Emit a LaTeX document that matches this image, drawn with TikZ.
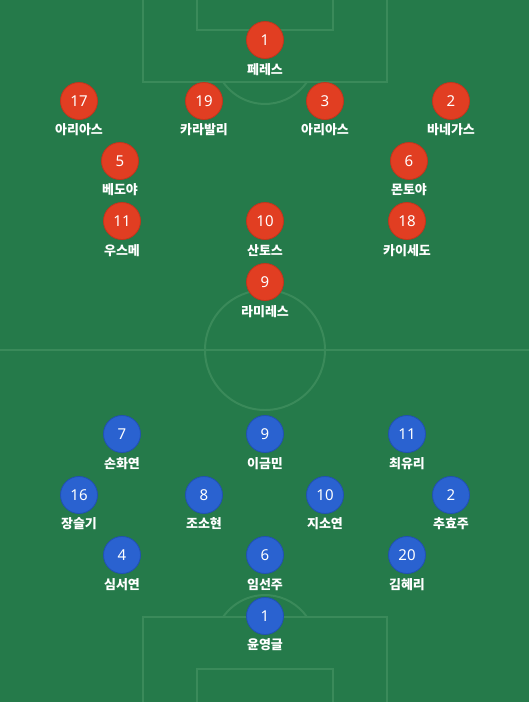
\documentclass[tikz,border=0pt]{standalone}
\usepackage{fontspec}
\newfontfamily\kr{Noto Sans CJK KR}
\setsansfont{Noto Sans}

\definecolor{pitch}{HTML}{257A4A}
\definecolor{pline}{HTML}{3A8A5A}
\definecolor{homered}{HTML}{E13E22}
\definecolor{homeedge}{HTML}{C3341C}
\definecolor{awayblue}{HTML}{2A62D0}
\definecolor{awayedge}{HTML}{2150B2}

\begin{document}
\begin{tikzpicture}[x=1pt, y=-1pt,
	home/.style={draw=homeedge, fill=homered, circle, line width=0.8pt, minimum size=37pt, inner sep=0pt, text=white, font=\sffamily\fontsize{15}{15}\selectfont},
	away/.style={draw=awayedge, fill=awayblue, circle, line width=0.8pt, minimum size=37pt, inner sep=0pt, text=white, font=\sffamily\fontsize{15}{15}\selectfont},
	pname/.style={text=white, inner sep=0pt, font=\kr\bfseries\fontsize{13}{13}\selectfont},
	pitchline/.style={draw=pline, line width=2pt}]
	% pitch
	\fill[pitch] (0,0) rectangle (529,702);
	\useasboundingbox (0,0) rectangle (529,702);
	\draw[pitchline] (143,-5) -- (143,82) -- (387,82) -- (387,-5);
	\draw[pitchline] (197,-5) -- (197,30) -- (333,30) -- (333,-5);
	\draw[pitchline] (223.1,82) arc[start angle=214.7, end angle=325.3, radius=51pt];
	\draw[pitchline] (0,350) -- (529,350);
	\draw[pitchline] (265,350) circle[radius=60pt];
	\draw[pitchline] (143,707) -- (143,617) -- (387,617) -- (387,707);
	\draw[pitchline] (197,707) -- (197,669) -- (333,669) -- (333,707);
	\draw[pitchline] (223.1,617) arc[start angle=145.3, end angle=34.7, radius=51pt];

	% home side
	\node[home] (h1) at (265,40) {1};
	\node[pname] (h1n) at (265,70) {페레스};
	\node[home] (h17) at (79,101) {17};
	\node[pname] (h17n) at (79,130) {아리아스};
	\node[home] (h19) at (204,101) {19};
	\node[pname] (h19n) at (204,130) {카라발리};
	\node[home] (h3) at (325,101) {3};
	\node[pname] (h3n) at (325,130) {아리아스};
	\node[home] (h2) at (451,101) {2};
	\node[pname] (h2n) at (451,130) {바네가스};
	\node[home] (h5) at (120,161) {5};
	\node[pname] (h5n) at (120,190) {베도야};
	\node[home] (h6) at (409,161) {6};
	\node[pname] (h6n) at (409,190) {몬토야};
	\node[home] (h11) at (122,221) {11};
	\node[pname] (h11n) at (122,251) {우스메};
	\node[home] (h10) at (265,221) {10};
	\node[pname] (h10n) at (265,251) {산토스};
	\node[home] (h18) at (407,221) {18};
	\node[pname] (h18n) at (407,251) {카이세도};
	\node[home] (h9) at (265,282) {9};
	\node[pname] (h9n) at (265,312) {라미레스};

	% away side
	\node[away] (a7) at (122,434) {7};
	\node[pname] (a7n) at (122,464) {손화연};
	\node[away] (a9) at (265,434) {9};
	\node[pname] (a9n) at (265,464) {이금민};
	\node[away] (a11) at (407,434) {11};
	\node[pname] (a11n) at (407,464) {최유리};
	\node[away] (a16) at (79,495) {16};
	\node[pname] (a16n) at (79,524) {장슬기};
	\node[away] (a8) at (204,495) {8};
	\node[pname] (a8n) at (204,524) {조소현};
	\node[away] (a10) at (325,495) {10};
	\node[pname] (a10n) at (325,524) {지소연};
	\node[away] (a2) at (451,495) {2};
	\node[pname] (a2n) at (451,524) {추효주};
	\node[away] (a4) at (122,555) {4};
	\node[pname] (a4n) at (122,585) {심서연};
	\node[away] (a6) at (265,555) {6};
	\node[pname] (a6n) at (265,585) {임선주};
	\node[away] (a20) at (407,555) {20};
	\node[pname] (a20n) at (407,585) {김혜리};
	\node[away] (a1) at (265,616) {1};
	\node[pname] (a1n) at (265,645) {윤영글};
\end{tikzpicture}
\end{document}
